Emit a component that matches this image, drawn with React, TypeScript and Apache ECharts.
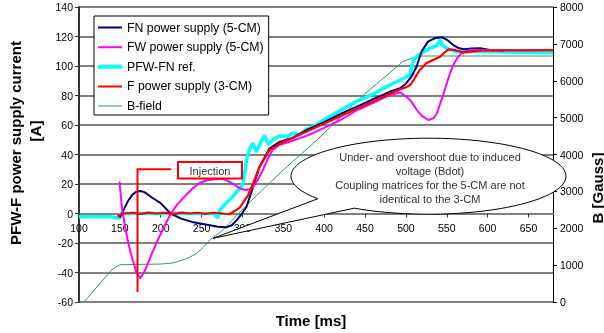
import React, { useEffect, useRef } from "react";
import * as echarts from "echarts";

// ---- data (time in ms, currents in A, field in Gauss) ----
const fnTime = [150, 155, 160, 165, 170, 175, 180, 185, 190, 200, 212, 225, 240, 255, 270, 280, 287, 293, 300, 305, 313, 321, 333, 346, 360, 380, 400, 420, 440, 460, 480, 493, 500, 507, 513, 519, 527, 535, 544, 551, 558, 565, 572, 580, 591, 603, 620];
const fnCurrent = [-3, 3, 8.5, 12.5, 14.8, 15.3, 14.5, 12.5, 10.5, 7, 0, -3.5, -6, -7.5, -9, -9.4, -8, -4.5, 0.5, 4.6, 18, 31.7, 44, 48.7, 51, 57, 62, 67.5, 72.5, 77.5, 82.5, 85, 88, 93, 99.5, 109.7, 116.5, 118.8, 119.5, 117.5, 114.2, 112, 111.3, 111.8, 112, 110.8, 110.5];

const fwTime = [149.5, 151.5, 153.5, 156.5, 159.6, 162.5, 165.7, 170, 175, 180, 186, 190, 196, 204, 212, 220, 231, 240, 247, 257, 266, 275, 280, 289, 297, 304, 309, 313, 319, 325, 331, 337, 345, 354, 380, 400, 420, 440, 460, 480, 493, 500, 505, 510, 515, 520, 527.5, 533.6, 538, 542, 546, 550, 554, 558, 563, 568, 575, 583, 603, 640, 680];
const fwCurrent = [21.6, 10, 0, -9, -18, -25, -31.5, -39.5, -43.9, -39.5, -31.5, -26, -18.5, -9, -0.5, 6, 12.5, 17.5, 20.5, 22.5, 23.2, 23.5, 22.7, 20, 17, 15.9, 16.5, 18.2, 23, 29.5, 37, 43, 46.5, 48, 53, 58, 63.4, 70, 75, 80.3, 82, 79.5, 77, 73, 69, 66, 63.4, 64.5, 68, 74.7, 81, 88.3, 95, 100.7, 105.5, 108.6, 110.3, 110.8, 110.8, 110.8, 110.8];

const refTime = [100, 140, 146, 149, 151, 200, 265, 268, 270, 272, 280, 288, 300, 303, 305, 309, 313, 317, 322, 327, 332, 337, 345, 354, 362, 370, 378, 386, 400, 420, 440, 460, 480, 493, 501, 505, 509, 513, 525, 538, 542, 544, 550, 562, 575, 590, 620, 680];
const refCurrent = [-2.2, -2.2, -3, -3, 0, 0, 0, -2, -3, 2, 7, 11.4, 19.3, 28, 36.3, 44.2, 47.6, 41.9, 48, 53, 47, 49.8, 52.5, 52, 54.5, 53.2, 57, 58.8, 63.5, 70, 76, 81, 87, 90.5, 92.7, 94, 104, 106.3, 110.8, 114.2, 117.6, 114.2, 112, 109.7, 109.7, 110, 109.5, 109];

const fTime = [147, 150, 155, 165, 175, 185, 195, 205, 215, 225, 235, 245, 255, 265, 275, 284, 290, 297, 307, 313, 321, 333, 348, 380, 400, 420, 440, 460, 480, 493, 500, 505, 510, 517, 525, 533, 542, 547, 552, 560, 570, 580, 591, 620, 650, 680];
const fCurrent = [-2, -1, 0, 0.5, -0.3, 0.6, 0, 0.5, -0.4, 0.6, 0, 0.5, -0.3, 0.5, 0, -0.5, 1.5, 4.2, 12.5, 20.5, 31.7, 43, 48, 56, 61, 66, 71, 76, 81, 84.2, 85.5, 87, 91, 97.3, 101.8, 104, 106.3, 109, 111.3, 110.8, 109.3, 109.8, 110.4, 110.5, 110.6, 110.8];

const bTime = [100, 106, 141, 150, 200, 215, 227, 235, 244, 252, 260, 276, 303, 346, 391, 419, 450, 480, 496, 507, 517, 680];
const bField = [0, 0, 895, 1010, 1030, 1060, 1140, 1210, 1320, 1480, 1680, 1950, 2580, 3500, 4390, 4990, 5650, 6210, 6517, 6609, 6671, 6671];

const xTicks = { min: 100, max: 680, interval: 50 };
const leftTicks = { min: -60, max: 140, interval: 20 };
const rightTicks = { min: 0, max: 8000, interval: 1000 };

const seriesNames = [
  "FN power supply (5-CM)",
  "FW power supply (5-CM)",
  "PFW-FN ref.",
  "F power supply (3-CM)",
  "B-field",
];

const FONT = "'Liberation Sans', Arial, sans-serif";

const GRID = { left: 79, right: 51, top: 7, bottom: 31 };
const PLOT_H = 333 - GRID.top - GRID.bottom;
// distance from the bottom of the plot to the zero current line (x axis sits there)
const ZERO_OFFSET = (PLOT_H * (0 - leftTicks.min)) / (leftTicks.max - leftTicks.min);

const zip = (a: number[], b: number[]) => a.map((t, i) => [t, b[i]]);

// legend icon: a horizontal bar of given thickness centred in a 24x14 box
const barIcon = (h: number) =>
  `path://M0,0h0.01v0.01h-0.01z M0,${7 - h / 2}h24v${h}h-24z M23.99,13.99h0.01v0.01h-0.01z`;

function calloutPoints() {
  const cx = 428.5, cy = 176.2, rx = 137.5, ry = 38;
  const tip = [213, 238.3];
  const a0 = (122.7 * Math.PI) / 180;
  const a1 = ((143.6 - 360) * Math.PI) / 180;
  const pts: number[][] = [tip];
  const n = 90;
  for (let i = 0; i <= n; i++) {
    const a = a0 + ((a1 - a0) * i) / n;
    pts.push([cx + rx * Math.cos(a), cy + ry * Math.sin(a)]);
  }
  return pts;
}

export default function App() {
  const ref = useRef<HTMLDivElement>(null);
  useEffect(() => {
    if (!ref.current) return;
    const chart = echarts.init(ref.current, undefined, { renderer: "svg" });
    const lineSeries = (name: string, data: number[][], color: string, width: number, yAxisIndex = 0) => ({
      name,
      type: "line",
      data,
      yAxisIndex,
      symbol: "none",
      showSymbol: false,
      color,
      lineStyle: { color, width },
      emphasis: { disabled: true },
    });
    const iconWidths = [2, 2, 4, 2, 1];
    chart.setOption({
      animation: false,
      grid: GRID,
      legend: {
        orient: "vertical",
        left: 94,
        top: 16,
        padding: [4.6, 5, 2, 4],
        itemGap: 5.6,
        itemWidth: 24,
        itemHeight: 14,
        borderColor: "#000",
        borderWidth: 1,
        backgroundColor: "#fff",
        data: seriesNames.map((name, i) => ({ name, icon: barIcon(iconWidths[i]) })),
        textStyle: { fontSize: 12.3, color: "#000", fontFamily: FONT },
        z: 8,
      },
      xAxis: {
        type: "value",
        ...xTicks,
        position: "bottom",
        offset: -ZERO_OFFSET,
        axisLine: { onZero: false, lineStyle: { color: "#808080", width: 2 } },
        axisTick: { show: true, length: 4, lineStyle: { color: "#333" } },
        axisLabel: { margin: 9, fontSize: 10.5, color: "#000", fontFamily: FONT, showMaxLabel: false },
        splitLine: { show: false },
      },
      yAxis: [
        {
          type: "value",
          position: "left",
          ...leftTicks,
          axisLine: { show: true, onZero: false, lineStyle: { color: "#333", width: 2 } },
          axisTick: { show: true, length: 4, lineStyle: { color: "#333" } },
          axisLabel: { margin: 6, fontSize: 10.5, color: "#000", fontFamily: FONT },
          splitLine: { show: true, lineStyle: { color: "#808080", width: 2 } },
        },
        {
          type: "value",
          position: "right",
          ...rightTicks,
          axisLine: { show: true, onZero: false, lineStyle: { color: "#000", width: 1 } },
          axisTick: { show: true, length: 4, lineStyle: { color: "#000" } },
          axisLabel: { margin: 7, fontSize: 10.5, color: "#000", fontFamily: FONT, formatter: (v: number) => String(v) },
          splitLine: { show: false },
        },
      ],
      series: [
        lineSeries(seriesNames[4], zip(bTime, bField), "#339966", 1, 1),
        lineSeries(seriesNames[2], zip(refTime, refCurrent), "#00FFFF", 3.5),
        lineSeries(seriesNames[0], zip(fnTime, fnCurrent), "#000080", 2),
        lineSeries(seriesNames[1], zip(fwTime, fwCurrent), "#FF00FF", 2),
        lineSeries(seriesNames[3], zip(fTime, fCurrent), "#FF0000", 2.2),
      ],
      graphic: [
        {
          type: "text",
          x: 15,
          y: 143,
          rotation: Math.PI / 2,
          style: { text: "PFW-F power supply current", align: "center", verticalAlign: "middle", fontSize: 15, fontWeight: "bold", fontFamily: FONT, fill: "#000" },
        },
        {
          type: "text",
          x: 35,
          y: 131,
          rotation: Math.PI / 2,
          style: { text: "[A]", align: "center", verticalAlign: "middle", fontSize: 15, fontWeight: "bold", fontFamily: FONT, fill: "#000" },
        },
        {
          type: "text",
          x: 597,
          y: 188,
          rotation: Math.PI / 2,
          style: { text: "B [Gauss]", align: "center", verticalAlign: "middle", fontSize: 15, fontWeight: "bold", fontFamily: FONT, fill: "#000" },
        },
        {
          type: "text",
          x: 311,
          y: 320,
          style: { text: "Time [ms]", align: "center", verticalAlign: "middle", fontSize: 15, fontWeight: "bold", fontFamily: FONT, fill: "#000" },
        },
        {
          type: "polyline",
          z: 20,
          shape: { points: [[171, 169.3], [137.5, 169.3], [137.5, 292]] },
          style: { stroke: "#FF0000", lineWidth: 2, fill: "none" },
        },
        {
          type: "rect",
          z: 20,
          shape: { x: 178, y: 162, width: 64, height: 16.5 },
          style: { fill: "#fff", stroke: "#FF0000", lineWidth: 2 },
        },
        {
          type: "text",
          z: 21,
          x: 210,
          y: 170.5,
          style: { text: "Injection", align: "center", verticalAlign: "middle", fontSize: 11, fontFamily: FONT, fill: "#333" },
        },
        {
          type: "polygon",
          z: 20,
          shape: { points: calloutPoints() },
          style: { fill: "#fff", stroke: "#000", lineWidth: 1 },
        },
        {
          type: "text",
          z: 21,
          x: 430,
          y: 178,
          style: {
            text: "Under- and overshoot due to induced\nvoltage (Bdot)\nCoupling matrices for the 5-CM are not\nidentical to the 3-CM",
            align: "center",
            verticalAlign: "middle",
            lineHeight: 13.7,
            fontSize: 11,
            fontFamily: FONT,
            fill: "#333",
          },
        },
      ],
    });
    return () => chart.dispose();
  }, []);
  return <div ref={ref} style={{ position: "fixed", left: 0, top: 0, width: 604, height: 333 }} />;
}
